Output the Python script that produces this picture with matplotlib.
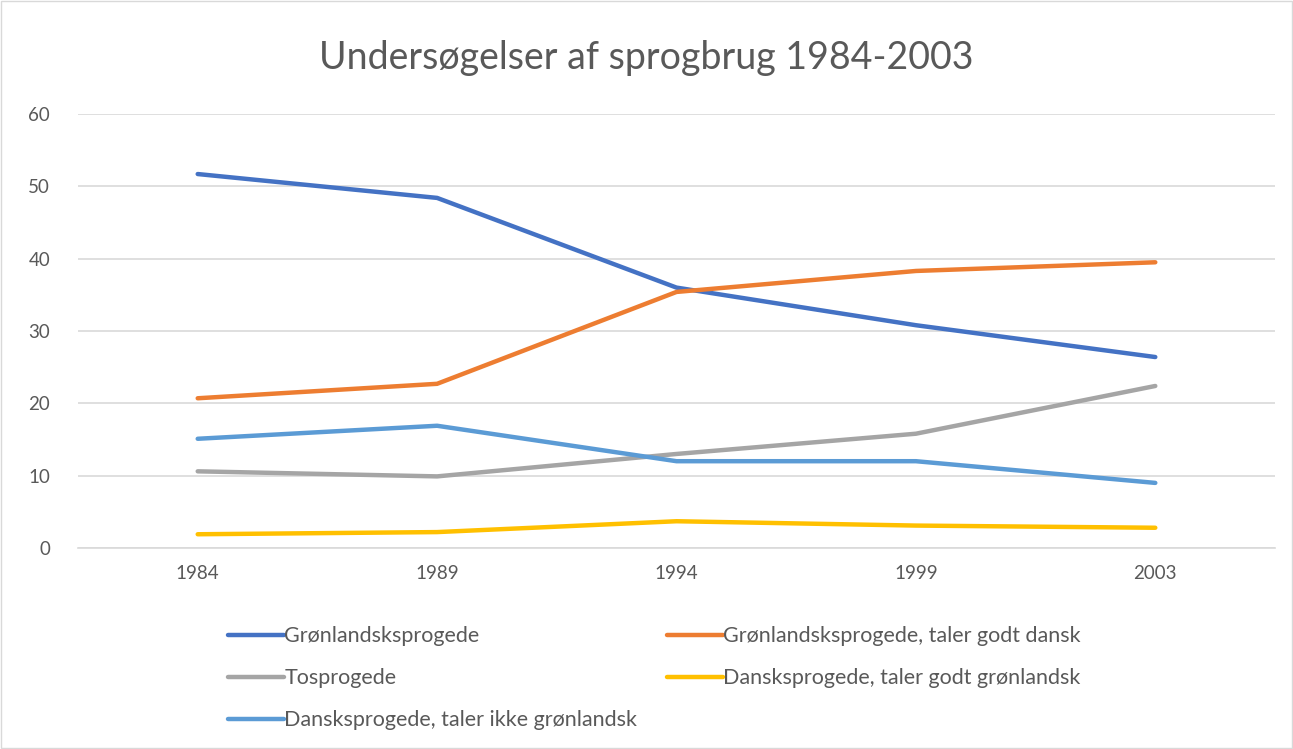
import matplotlib
matplotlib.use("Agg")
import matplotlib.pyplot as plt
from matplotlib.patches import Rectangle

years = ["1984", "1989", "1994", "1999", "2003"]
groenlandsk = [51.7, 48.4, 36.0, 30.8, 26.4]
groenlandsk_dansk = [20.7, 22.7, 35.4, 38.3, 39.5]
tosprogede = [10.6, 9.9, 13.0, 15.8, 22.4]
dansk_godt_groenlandsk = [1.9, 2.2, 3.7, 3.1, 2.8]
dansk_ikke_groenlandsk = [15.1, 16.9, 12.0, 12.0, 9.0]

series = [
    ("Grønlandsksprogede", groenlandsk, "#4472C4"),
    ("Grønlandsksprogede, taler godt dansk", groenlandsk_dansk, "#ED7D31"),
    ("Tosprogede", tosprogede, "#A5A5A5"),
    ("Dansksprogede, taler godt grønlandsk", dansk_godt_groenlandsk, "#FFC000"),
    ("Dansksprogede, taler ikke grønlandsk", dansk_ikke_groenlandsk, "#5B9BD5"),
]

plt.rcParams["font.family"] = ["Lato", "DejaVu Sans"]
text_color = "#595959"

fig = plt.figure(figsize=(12.93, 7.49), dpi=100)
ax = fig.add_axes([78 / 1293, 1 - 548 / 749, (1275 - 78) / 1293, (548 - 114) / 749])

x = list(range(len(years)))
handles = []
for label, values, color in series:
    line, = ax.plot(x, values, color=color, linewidth=3.2, solid_capstyle="round",
                    solid_joinstyle="round", label=label)
    handles.append(line)

ax.set_xlim(-0.5, len(years) - 0.5)
ax.set_ylim(0, 60)
ax.set_yticks(range(0, 61, 10))
ax.set_xticks(x)
ax.set_xticklabels(years)
ax.grid(axis="y", color="#D9D9D9", linewidth=1.2)
ax.set_axisbelow(True)
for side in ["top", "right", "left"]:
    ax.spines[side].set_visible(False)
ax.spines["bottom"].set_color("#D9D9D9")
ax.spines["bottom"].set_linewidth(1.2)
ax.tick_params(axis="both", length=0, labelsize=13.5, colors=text_color, pad=12)
ax.tick_params(axis="y", pad=20)

fig.suptitle("Undersøgelser af sprogbrug 1984-2003", x=0.5, y=1 - 58 / 749,
             fontsize=27, color=text_color, va="center")

order = [0, 2, 4, 1, 3]
leg = fig.legend([handles[i] for i in order], [series[i][0] for i in order],
                 loc="upper left", bbox_to_anchor=(209 / 1293, 1 - 607 / 749),
                 ncol=2, frameon=False, fontsize=15.5, labelcolor=text_color,
                 handlelength=2.6, handletextpad=0.0, columnspacing=1.4,
                 labelspacing=1.02)

fig.add_artist(Rectangle((0.001, 0.001), 0.998, 0.998, transform=fig.transFigure,
                         fill=False, edgecolor="#D9D9D9", linewidth=1))

fig.savefig("out.png", dpi=100)
